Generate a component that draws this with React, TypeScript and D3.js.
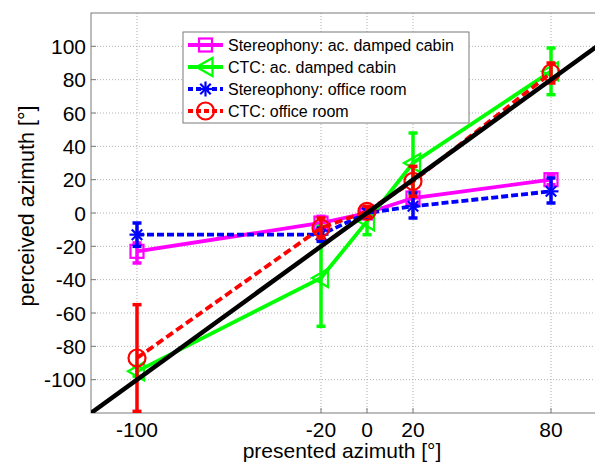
import React from "react";
import * as d3 from "d3";

const xs = [-100, -20, 0, 20, 80];
const xTicks = [-100, -20, 0, 20, 80];
const yTicks = [-100, -80, -60, -40, -20, 0, 20, 40, 60, 80, 100];

const stereoCabin = [-23, -6, 0, 9, 20];
const stereoCabinLo = [-30, -10, -2, 5, 17];
const stereoCabinHi = [-18, -2, 2, 13, 23];

const ctcCabin = [-95, -39, -5, 30, 85];
const ctcCabinLo = [-98, -68, -13, 12, 71];
const ctcCabinHi = [-92, -8, 3, 48, 99];

const stereoOffice = [-13, -13, 0, 4, 13];
const stereoOfficeLo = [-20, -17, -3, -3, 6];
const stereoOfficeHi = [-6, -9, 3, 12, 21];

const ctcOffice = [-87, -9, 1, 19, 84];
const ctcOfficeLo = [-119, -15, -2, 10, 78];
const ctcOfficeHi = [-55, -3, 4, 28, 90];

const legendLabels = [
  "Stereophony: ac. damped cabin",
  "CTC: ac. damped cabin",
  "Stereophony: office room",
  "CTC: office room",
];

const W = 595;
const H = 464;
const left = 91;
const right = 597;
const top = 13;
const bottom = 413;

type Marker = "square" | "triangle" | "star" | "circle";

function MarkerShape({ type, x, y, color }: { type: Marker; x: number; y: number; color: string }) {
  const sw = 2.2;
  if (type === "square") {
    return <rect x={x - 6.5} y={y - 6.5} width={13} height={13} fill="none" stroke={color} strokeWidth={sw} />;
  }
  if (type === "circle") {
    return <circle cx={x} cy={y} r={8.5} fill="none" stroke={color} strokeWidth={sw} />;
  }
  if (type === "triangle") {
    return <polygon points={`${x - 9},${y} ${x + 7},${y - 9} ${x + 7},${y + 9}`} fill="none" stroke={color} strokeWidth={sw} />;
  }
  const r = 7.5;
  const segs = [
    [0, -r, 0, r],
    [-r, 0, r, 0],
    [-r * 0.7, -r * 0.7, r * 0.7, r * 0.7],
    [-r * 0.7, r * 0.7, r * 0.7, -r * 0.7],
  ];
  return (
    <g>
      {segs.map((s, i) => (
        <line key={i} x1={x + s[0]} y1={y + s[1]} x2={x + s[2]} y2={y + s[3]} stroke={color} strokeWidth={sw} />
      ))}
    </g>
  );
}

export default function App() {
  const x = d3.scaleLinear().domain([-120, 100]).range([left, right]);
  const y = d3.scaleLinear().domain([-120, 120]).range([bottom, top]);
  const line = d3
    .line<number>()
    .x((_, i) => x(xs[i]))
    .y((d) => y(d));

  const series = [
    { v: stereoCabin, lo: stereoCabinLo, hi: stereoCabinHi, color: "#ff00ff", dash: undefined, marker: "square" as Marker },
    { v: ctcCabin, lo: ctcCabinLo, hi: ctcCabinHi, color: "#00ff00", dash: undefined, marker: "triangle" as Marker },
    { v: stereoOffice, lo: stereoOfficeLo, hi: stereoOfficeHi, color: "#0000ff", dash: "7,3", marker: "star" as Marker },
    { v: ctcOffice, lo: ctcOfficeLo, hi: ctcOfficeHi, color: "#ff0000", dash: "8,4", marker: "circle" as Marker },
  ];

  const font = "Liberation Sans, Arial, sans-serif";

  return (
    <div style={{ position: "absolute", left: 0, top: 0 }}>
      <svg width={W} height={H} style={{ display: "block", background: "#fff" }}>
        <defs>
          <clipPath id="plotclip">
            <rect x={left} y={top} width={right - left} height={bottom - top} />
          </clipPath>
        </defs>
        {/* grid */}
        {xTicks.map((t) => (
          <line key={"gx" + t} x1={x(t)} x2={x(t)} y1={top} y2={bottom} stroke="#b0b0b0" strokeWidth={1} strokeDasharray="1,2" />
        ))}
        {yTicks.map((t) => (
          <line key={"gy" + t} x1={left} x2={right} y1={y(t)} y2={y(t)} stroke="#b0b0b0" strokeWidth={1} strokeDasharray="1,2" />
        ))}
        {/* box */}
        <rect x={left} y={top} width={right - left} height={bottom - top} fill="none" stroke="#7a7a7a" strokeWidth={1} />
        {/* ticks */}
        {xTicks.map((t) => (
          <g key={"tx" + t}>
            <line x1={x(t)} x2={x(t)} y1={bottom} y2={bottom - 5} stroke="#7a7a7a" />
            <text x={x(t)} y={437} textAnchor="middle" fontFamily={font} fontSize={21} fill="#000">
              {t}
            </text>
          </g>
        ))}
        {yTicks.map((t) => (
          <g key={"ty" + t}>
            <line x1={left} x2={left + 5} y1={y(t)} y2={y(t)} stroke="#7a7a7a" />
            <text x={86} y={y(t) + 7.5} textAnchor="end" fontFamily={font} fontSize={21} fill="#000">
              {t}
            </text>
          </g>
        ))}
        <text x={342} y={458} textAnchor="middle" fontFamily={font} fontSize={21} fill="#000">
          presented azimuth [°]
        </text>
        <text
          transform={`translate(34, 206) rotate(-90)`}
          textAnchor="middle"
          fontFamily={font}
          fontSize={21.5}
          fill="#000"
        >
          perceived azimuth [°]
        </text>
        <g clipPath="url(#plotclip)">
          {series.map((s, si) => (
            <g key={"s" + si}>
              <path d={line(s.v) || ""} fill="none" stroke={s.color} strokeWidth={3.8} strokeDasharray={s.dash} />
              {xs.map((xv, i) => (
                <g key={i}>
                  <line x1={x(xv)} x2={x(xv)} y1={y(s.lo[i])} y2={y(s.hi[i])} stroke={s.color} strokeWidth={3.5} />
                  <line x1={x(xv) - 4.5} x2={x(xv) + 4.5} y1={y(s.lo[i])} y2={y(s.lo[i])} stroke={s.color} strokeWidth={3.5} />
                  <line x1={x(xv) - 4.5} x2={x(xv) + 4.5} y1={y(s.hi[i])} y2={y(s.hi[i])} stroke={s.color} strokeWidth={3.5} />
                  <MarkerShape type={s.marker} x={x(xv)} y={y(s.v[i])} color={s.color} />
                </g>
              ))}
            </g>
          ))}
          <line x1={x(-120)} y1={y(-120)} x2={x(100)} y2={y(100)} stroke="#000" strokeWidth={4.5} />
        </g>
        {/* legend */}
        <g>
          <rect x={183} y={32} width={286} height={91} fill="#fff" stroke="#7a7a7a" strokeWidth={1} />
          {series.map((s, i) => {
            const ly = 45 + i * 22;
            return (
              <g key={"l" + i}>
                <line x1={188} x2={223} y1={ly} y2={ly} stroke={s.color} strokeWidth={3.8} strokeDasharray={s.dash ? "5,3" : undefined} />
                <MarkerShape type={s.marker} x={205.5} y={ly} color={s.color} />
                <text x={228} y={ly + 6} fontFamily={font} fontSize={16} fill="#000">
                  {legendLabels[i]}
                </text>
              </g>
            );
          })}
        </g>
      </svg>
    </div>
  );
}
